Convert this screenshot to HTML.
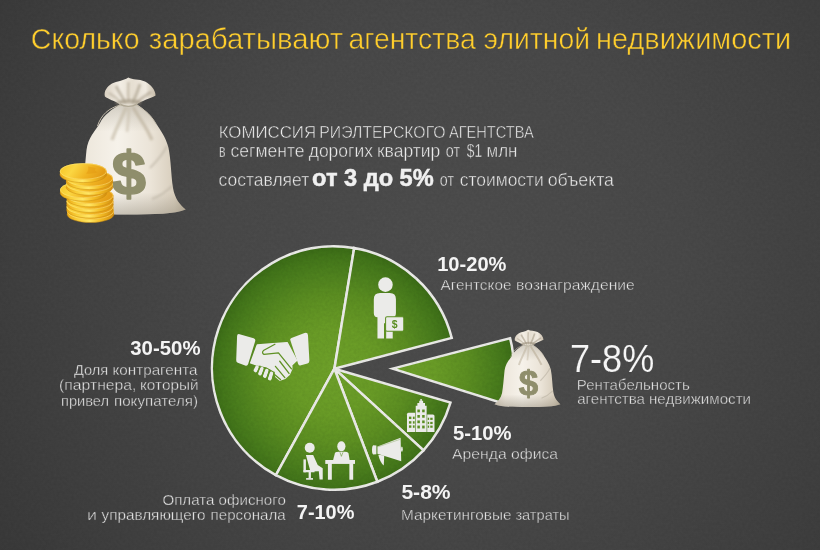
<!DOCTYPE html>
<html lang="ru"><head><meta charset="utf-8"><title>Сколько зарабатывают агентства элитной недвижимости</title>
<style>
html,body{margin:0;padding:0;background:#3f3f3f;}
body{width:820px;height:550px;overflow:hidden;}
svg{display:block;font-family:"Liberation Sans",sans-serif;}
</style></head><body>
<svg width="820" height="550" viewBox="0 0 820 550">
<defs>
<radialGradient id="bg" cx="450" cy="255" r="560" gradientUnits="userSpaceOnUse">
<stop offset="0" stop-color="#4e4e4e"/><stop offset="0.4" stop-color="#4a4a4a"/><stop offset="0.75" stop-color="#414141"/><stop offset="1" stop-color="#393939"/>
</radialGradient>
<radialGradient id="gr" cx="334.0" cy="371.0" r="125.0" gradientUnits="userSpaceOnUse"><stop offset="0" stop-color="#6fa22a"/><stop offset="0.35" stop-color="#6a9d27"/><stop offset="0.6" stop-color="#5d9022"/><stop offset="0.8" stop-color="#4d811e"/><stop offset="0.92" stop-color="#43761a"/><stop offset="1" stop-color="#3a6b16"/></radialGradient>
<radialGradient id="grw" cx="392.3" cy="371.0" r="125.0" gradientUnits="userSpaceOnUse"><stop offset="0" stop-color="#6fa22a"/><stop offset="0.35" stop-color="#6a9d27"/><stop offset="0.6" stop-color="#5d9022"/><stop offset="0.8" stop-color="#4d811e"/><stop offset="0.92" stop-color="#43761a"/><stop offset="1" stop-color="#3a6b16"/></radialGradient>
<filter id="noise" x="0" y="0" width="100%" height="100%"><feTurbulence type="fractalNoise" baseFrequency="0.35" numOctaves="2" seed="7"/><feColorMatrix type="matrix" values="0 0 0 0 0  0 0 0 0 0  0 0 0 0 0  1.6 0 0 0 -0.3"/></filter>
<linearGradient id="bagBody" x1="0" y1="0" x2="1" y2="0">
<stop offset="0" stop-color="#dbd2c3"/><stop offset="0.16" stop-color="#eee8dd"/><stop offset="0.42" stop-color="#f6f2ea"/><stop offset="0.7" stop-color="#ebe4d8"/><stop offset="0.9" stop-color="#d8cebd"/><stop offset="1" stop-color="#bfb4a0"/>
</linearGradient>
<linearGradient id="bagShade" x1="0" y1="0" x2="0" y2="1">
<stop offset="0" stop-color="#8f8776" stop-opacity="0.35"/><stop offset="0.25" stop-color="#8f8776" stop-opacity="0"/><stop offset="0.8" stop-color="#8f8776" stop-opacity="0"/><stop offset="1" stop-color="#8f8776" stop-opacity="0.45"/>
</linearGradient>
<linearGradient id="bagTop" x1="0" y1="0" x2="1" y2="0">
<stop offset="0" stop-color="#dad1c2"/><stop offset="0.3" stop-color="#f3eee5"/><stop offset="0.55" stop-color="#e6dfd2"/><stop offset="0.8" stop-color="#f0eae0"/><stop offset="1" stop-color="#c6bba8"/>
</linearGradient>
<linearGradient id="coinTop" x1="0" y1="0" x2="1" y2="0.25">
<stop offset="0" stop-color="#f6c524"/><stop offset="0.35" stop-color="#fbd642"/><stop offset="0.7" stop-color="#f0b321"/><stop offset="1" stop-color="#e49d17"/>
</linearGradient>
<linearGradient id="coinRim" x1="0" y1="0" x2="1" y2="0">
<stop offset="0" stop-color="#eaa715"/><stop offset="0.22" stop-color="#f9cf3a"/><stop offset="0.48" stop-color="#ffe765"/><stop offset="0.72" stop-color="#f4bd25"/><stop offset="1" stop-color="#d28d0e"/>
</linearGradient>
<filter id="soft" x="-20%" y="-20%" width="140%" height="140%"><feGaussianBlur stdDeviation="1.2"/></filter>
<filter id="soft3" x="-20%" y="-20%" width="140%" height="140%"><feGaussianBlur stdDeviation="0.7"/></filter>
<filter id="soft2" x="-20%" y="-20%" width="140%" height="140%"><feGaussianBlur stdDeviation="2.2"/></filter>
<g id="bag">
<path d="M121,104 C112,109 104,115 100,123 C95,131 88,138 86.5,150 C85,165 84,180 82,190 C80,199 74,205 68.7,209.5 C80,214 100,214.5 127,214.5 C155,214.5 175,214 185.7,209.5 C180,205 175,199 173,188 C171,175 171,160 168.5,148 C166,137 159,128 153,119 C148,112 142,108 136.5,104 Z" fill="url(#bagBody)"/>
<path d="M121,104 C112,109 104,115 100,123 C95,131 88,138 86.5,150 C85,165 84,180 82,190 C80,199 74,205 68.7,209.5 C80,214 100,214.5 127,214.5 C155,214.5 175,214 185.7,209.5 C180,205 175,199 173,188 C171,175 171,160 168.5,148 C166,137 159,128 153,119 C148,112 142,108 136.5,104 Z" fill="url(#bagShade)"/>
<g filter="url(#soft)"><path d="M126,107 C122,118 116,128 112,140" stroke="#c2b7a3" stroke-width="3.5" fill="none" opacity="0.6"/>
<path d="M133,107 C139,118 146,126 152,140" stroke="#b9ad98" stroke-width="3.5" fill="none" opacity="0.6"/>
<path d="M129,107 C129,116 128,124 127,132" stroke="#c6bba7" stroke-width="3" fill="none" opacity="0.5"/>
<path d="M167,146 C162,156 156,162 150,168" stroke="#b9b1a2" stroke-width="2" fill="none" opacity="0.6"/><path d="M172,186 C166,192 160,196 152,199" stroke="#b9b1a2" stroke-width="2" fill="none" opacity="0.6"/></g>
<path d="M120,104.4 C115,100.8 108,99 104.9,96.4 C103.6,91.5 107,86.5 112,83.6 C117,80.8 123,81 128.3,77.4 C132.5,80 139,78.6 145,81.4 C151,84.4 155.2,89.6 155.6,95.4 C150,98.8 141,100.6 136.5,104.4 C131,106.2 125,106.2 120,104.4 Z" fill="url(#bagTop)"/>
<g filter="url(#soft)" fill="none">
<path d="M116,86 C119,92 123,98 126,104" stroke="#a79c88" stroke-width="3" opacity="0.6"/>
<path d="M128.5,82 C128,90 128,98 129,104" stroke="#ada28e" stroke-width="2.6" opacity="0.5"/>
<path d="M140,84 C138,90 135,98 132,104" stroke="#a79c88" stroke-width="3" opacity="0.6"/>
<path d="M109,93 C114,96 119,100 123,104" stroke="#aca18d" stroke-width="2.4" opacity="0.5"/>
<path d="M151,92 C145,96 139,100 135,104" stroke="#a39884" stroke-width="2.8" opacity="0.55"/>
<path d="M116,103.500 C124,100 133,100 141,103" stroke="#9b907b" stroke-width="3.5" opacity="0.55"/>
</g>
<path d="M119.5,104 C125,107 132,107 137,103.8" stroke="#b1a996" stroke-width="1.5" fill="none"/>
<path d="M121,105 C109,107.500 101,115 97.500,126 M136,105 C146,110 153,118 156,124" stroke="#c4bcab" stroke-width="1" fill="none"/>
<text x="128.8" y="193.6" font-size="62" font-weight="700" text-anchor="middle" fill="#8f8e6c" stroke="#8f8e6c" stroke-width="1.6" stroke-linejoin="round" font-family="'Liberation Sans',sans-serif">$</text>
</g>
<g id="coin">
<path d="M-23.4,0 v3 a23.4,8.2 0 0 0 46.8,0 v-3 z" fill="url(#coinRim)"/>
<path d="M-23.4,3 a23.4,8.2 0 0 0 46.8,0" fill="none" stroke="#c98a10" stroke-width="0.7" opacity="0.7"/>
<ellipse cx="0" cy="0" rx="23.4" ry="8.2" fill="url(#coinTop)"/>
<ellipse cx="0" cy="0" rx="23" ry="7.8" fill="none" stroke="#fde57a" stroke-width="0.7" opacity="0.8"/>
</g>

</defs>
<rect width="820" height="550" fill="url(#bg)"/>
<g id="pie" fill="url(#gr)" stroke="#eeeeeb" stroke-width="2.5" stroke-linejoin="miter">
<path d="M334.40,368.70 L275.87,475.16 A121.75,121.75 0 0 1 354.16,248.02 Z"/>
<path d="M334.40,368.70 L354.16,248.02 A121.75,121.75 0 0 1 451.71,337.92 Z"/>
<path d="M334.40,368.70 L450.48,402.64 A121.75,121.75 0 0 1 423.49,450.33 Z"/>
<path d="M334.40,368.70 L423.49,450.33 A121.75,121.75 0 0 1 377.34,481.73 Z"/>
<path d="M334.40,368.70 L377.34,481.73 A121.75,121.75 0 0 1 275.87,475.16 Z"/>
</g>
<path id="wedge" d="M392.70,368.60 L510.12,338.23 A121.75,121.75 0 0 1 508.04,404.97 Z" fill="url(#grw)" stroke="#eeeeeb" stroke-width="2.5" stroke-linejoin="miter"/>
<rect width="820" height="550" filter="url(#noise)" opacity="0.06"/>
<!-- big money bag with coins -->
<use href="#bag"/>
<g id="coins">
<use href="#coin" transform="translate(90.5,211.3)"/>
<use href="#coin" transform="translate(90,206.8)"/>
<use href="#coin" transform="translate(90,201.2)"/>
<use href="#coin" transform="translate(90,195.6)"/>
<use href="#coin" transform="translate(83.5,189.8)"/>
<use href="#coin" transform="translate(89.5,184)"/>
<use href="#coin" transform="translate(89.5,178.4)"/>
<use href="#coin" transform="translate(83.3,171.4)"/>
<path d="M88,166.5 c3,1 6,0.5 8,2 c-2,1.5 -1,3 2,3.5 c-3,1.500 -8,2 -12,1.500 c2,-2 3,-4.500 2,-7 z" fill="#e39a14" opacity="0.55"/>
</g>
<!-- small bag -->
<use href="#bag" transform="translate(455.76,286.02) scale(0.564)"/>
<!-- icons -->
<g id="ic-hand" transform="translate(225,320) scale(0.12729)" fill="#ebebe9">
<path d="M95,125 Q95,106 115,111 L225,143 Q242,149 237,166 L182,345 Q176,364 158,357 L100,335 Q87,330 88,314 Z"/>
<path d="M514,162 Q506,148 522,142 L625,103 Q650,95 652,120 L663,318 Q664,336 648,341 L597,356 Q581,360 575,345 Z"/>
<path d="M254,197 L350,188 L488,178 L562,318 L524,352 L524,385 L505,428 L472,458 L432,472 L400,446 L392,404 L330,368 L240,350 L202,337 Z" stroke="#ebebe9" stroke-width="12" stroke-linejoin="round"/>
<g fill="none" stroke="#ebebe9" stroke-width="30" stroke-linecap="round">
<path d="M252,372 L240,396"/><path d="M290,384 L275,420"/><path d="M329,398 L313,440"/><path d="M366,420 L352,460"/>
</g>
<g fill="none" stroke="#5f9124" stroke-width="10" stroke-linecap="round" stroke-linejoin="round">
<path d="M392,190 L302,240 Q286,258 306,270 L420,258 L522,384"/>
<path d="M430,324 L503,420"/><path d="M396,364 L470,452"/><path d="M384,424 L436,468"/>
<path d="M274,362 L256,412"/><path d="M312,374 L294,432"/><path d="M350,392 L332,452"/><path d="M386,412 L372,470"/>
</g>
</g>
<g id="ic-agent" transform="translate(360,265) scale(0.14545)" fill="#ebebe9">
<circle cx="175" cy="135" r="50"/>
<path d="M95,235 Q95,192 138,192 L205,192 Q247,192 247,235 L247,330 Q247,358 225,360 L225,505 L180,505 L180,400 L165,400 L165,505 L120,505 L120,360 Q95,358 95,330 Z"/>
<rect x="176" y="355" width="125" height="100" rx="10" stroke="#5b8e22" stroke-width="7"/>
<text x="239" y="432" font-size="72" font-weight="700" text-anchor="middle" fill="#5b8e22" font-family="'Liberation Sans',sans-serif">$</text>
</g>
<g id="ic-office" transform="translate(395,385) scale(0.10909)" fill="#ebebe9">
<path d="M190,430 L190,190 L205,190 L205,165 L222,165 L222,145 L232,145 L232,128 L246,128 L246,145 L258,145 L258,165 L275,165 L275,190 L290,190 L290,430 Z"/>
<path d="M110,430 L110,268 Q112,255 125,255 L185,255 L185,430 Z"/>
<path d="M295,430 L295,270 L348,270 Q362,272 362,285 L362,430 Z"/>
<g fill="#5b8e22">
<rect x="205" y="225" width="23" height="25"/><rect x="249" y="225" width="23" height="25"/>
<rect x="205" y="275" width="23" height="25"/><rect x="249" y="275" width="23" height="25"/>
<rect x="205" y="325" width="23" height="25"/><rect x="249" y="325" width="23" height="25"/>
<rect x="205" y="372" width="23" height="26"/><rect x="249" y="372" width="23" height="26"/>
<rect x="128" y="290" width="22" height="22"/><rect x="164" y="290" width="16" height="22"/>
<rect x="128" y="332" width="22" height="22"/><rect x="164" y="332" width="16" height="22"/>
<rect x="128" y="370" width="22" height="22"/><rect x="164" y="370" width="16" height="22"/>
<rect x="300" y="300" width="13" height="20"/><rect x="323" y="300" width="22" height="20"/>
<rect x="300" y="338" width="13" height="20"/><rect x="323" y="338" width="22" height="20"/>
<rect x="300" y="372" width="13" height="20"/><rect x="323" y="372" width="22" height="20"/>
</g>
</g>
<g id="ic-mega" transform="translate(360,425) scale(0.10909)" fill="#ebebe9">
<path d="M120,185 L150,188 L150,268 L120,270 Q110,265 110,228 Q110,192 120,185 Z"/>
<path d="M160,198 L372,118 L378,332 L160,264 Z"/>
<ellipse cx="384" cy="222" rx="8" ry="24"/>
<path d="M168,272 L222,280 L218,372 Q182,340 168,272 Z"/>
<path d="M166,200 L366,132" stroke="#5b8e22" stroke-width="5" fill="none" opacity="0.55"/>
</g>
<g id="ic-staff" transform="translate(295,435) scale(0.090909)" fill="#ebebe9">
<circle cx="162" cy="140" r="55"/>
<path d="M120,220 L200,220 L250,330 L305,365 L305,490 L270,490 L262,398 L170,402 Z"/>
<rect x="93" y="268" width="27" height="142"/><rect x="93" y="385" width="122" height="25"/>
<rect x="150" y="405" width="25" height="72"/><rect x="122" y="474" width="76" height="18"/>
<ellipse cx="510" cy="125" rx="45" ry="55"/>
<path d="M440,195 Q450,185 480,185 L545,185 Q578,185 588,198 L602,280 L418,280 Z"/>
<path d="M495,190 L510,235 L528,190" stroke="#5b8e22" stroke-width="6" fill="none"/>
<rect x="333" y="275" width="327" height="43"/>
<rect x="362" y="310" width="43" height="182"/><rect x="598" y="310" width="42" height="182"/>
</g>

<g id="texts">
<text y="49.10" font-size="30" font-weight="400" fill="#ffce2c" stroke="#474747" stroke-width="0.5"><tspan x="30.80" textLength="108.70" lengthAdjust="spacingAndGlyphs">Сколько</tspan> <tspan x="148.80" textLength="194.30" lengthAdjust="spacingAndGlyphs">зарабатывают</tspan> <tspan x="348.40" textLength="127.40" lengthAdjust="spacingAndGlyphs">агентства</tspan> <tspan x="483.60" textLength="106.40" lengthAdjust="spacingAndGlyphs">элитной</tspan> <tspan x="596.00" textLength="195.10" lengthAdjust="spacingAndGlyphs">недвижимости</tspan></text>
<text y="138.00" font-size="16.5" font-weight="400" fill="#ededed" stroke="#474747" stroke-width="0.45"><tspan x="218.70" textLength="97.40" lengthAdjust="spacingAndGlyphs">КОМИССИЯ</tspan> <tspan x="319.30" textLength="126.30" lengthAdjust="spacingAndGlyphs">РИЭЛТЕРСКОГО</tspan> <tspan x="448.90" textLength="84.90" lengthAdjust="spacingAndGlyphs">АГЕНТСТВА</tspan></text>
<text y="157.30" font-size="17.5" font-weight="400" fill="#ebebeb" stroke="#474747" stroke-width="0.4"><tspan x="219.00" textLength="6.50" lengthAdjust="spacingAndGlyphs">в</tspan> <tspan x="230.60" textLength="74.00" lengthAdjust="spacingAndGlyphs">сегменте</tspan> <tspan x="308.70" textLength="64.20" lengthAdjust="spacingAndGlyphs">дорогих</tspan> <tspan x="376.90" textLength="63.40" lengthAdjust="spacingAndGlyphs">квартир</tspan> <tspan x="445.80" textLength="14.30" lengthAdjust="spacingAndGlyphs">от</tspan> <tspan x="466.80" textLength="15.30" lengthAdjust="spacingAndGlyphs">$1</tspan> <tspan x="486.60" textLength="30.80" lengthAdjust="spacingAndGlyphs">млн</tspan></text>
<text x="218.60" y="185.90" font-size="17.5" font-weight="400" fill="#ebebeb" stroke="#474747" stroke-width="0.4" textLength="90.60" lengthAdjust="spacingAndGlyphs">составляет</text>
<text x="312.10" y="185.70" font-size="23" font-weight="700" fill="#f0f0f0" stroke="#f0f0f0" stroke-width="0.5" textLength="121.60" lengthAdjust="spacingAndGlyphs">от 3 до 5%</text>
<text y="185.90" font-size="17.5" font-weight="400" fill="#ebebeb" stroke="#474747" stroke-width="0.4"><tspan x="439.80" textLength="14.20" lengthAdjust="spacingAndGlyphs">от</tspan> <tspan x="459.70" textLength="84.10" lengthAdjust="spacingAndGlyphs">стоимости</tspan> <tspan x="547.70" textLength="66.30" lengthAdjust="spacingAndGlyphs">объекта</tspan></text>
<text x="437.20" y="270.70" font-size="19.5" font-weight="700" fill="#f4f4f4" textLength="69.30" lengthAdjust="spacingAndGlyphs">10-20%</text>
<text y="289.60" font-size="14.5" font-weight="400" fill="#ebebeb" stroke="#474747" stroke-width="0.4"><tspan x="440.50" textLength="71.00" lengthAdjust="spacingAndGlyphs">Агентское</tspan> <tspan x="516.00" textLength="118.80" lengthAdjust="spacingAndGlyphs">вознаграждение</tspan></text>
<text x="130.30" y="354.90" font-size="19.5" font-weight="700" fill="#f4f4f4" textLength="70.20" lengthAdjust="spacingAndGlyphs">30-50%</text>
<text y="374.50" font-size="14.5" font-weight="400" fill="#ebebeb" stroke="#474747" stroke-width="0.4"><tspan x="74.00" textLength="34.20" lengthAdjust="spacingAndGlyphs">Доля</tspan> <tspan x="112.50" textLength="85.00" lengthAdjust="spacingAndGlyphs">контрагента</tspan></text>
<text y="390.40" font-size="14.5" font-weight="400" fill="#ebebeb" stroke="#474747" stroke-width="0.4"><tspan x="59.00" textLength="77.50" lengthAdjust="spacingAndGlyphs">(партнера,</tspan> <tspan x="140.00" textLength="58.50" lengthAdjust="spacingAndGlyphs">который</tspan></text>
<text y="405.90" font-size="14.5" font-weight="400" fill="#ebebeb" stroke="#474747" stroke-width="0.4"><tspan x="61.00" textLength="48.00" lengthAdjust="spacingAndGlyphs">привел</tspan> <tspan x="114.00" textLength="84.00" lengthAdjust="spacingAndGlyphs">покупателя)</tspan></text>
<text x="162.40" y="505.10" font-size="14.5" font-weight="400" fill="#ebebeb" stroke="#474747" stroke-width="0.4" textLength="123.40" lengthAdjust="spacingAndGlyphs">Оплата офисного</text>
<text y="519.70" font-size="14.5" font-weight="400" fill="#ebebeb" stroke="#474747" stroke-width="0.4"><tspan x="87.00" textLength="10.00" lengthAdjust="spacingAndGlyphs">и</tspan> <tspan x="101.50" textLength="104.00" lengthAdjust="spacingAndGlyphs">управляющего</tspan> <tspan x="210.60" textLength="75.00" lengthAdjust="spacingAndGlyphs">персонала</tspan></text>
<text x="296.80" y="518.80" font-size="19.5" font-weight="700" fill="#f4f4f4" textLength="57.60" lengthAdjust="spacingAndGlyphs">7-10%</text>
<text x="452.90" y="440.20" font-size="19.5" font-weight="700" fill="#f4f4f4" textLength="58.60" lengthAdjust="spacingAndGlyphs">5-10%</text>
<text x="452.10" y="459.30" font-size="14.5" font-weight="400" fill="#ebebeb" stroke="#474747" stroke-width="0.4" textLength="106.00" lengthAdjust="spacingAndGlyphs">Аренда офиса</text>
<text x="401.40" y="498.80" font-size="19.5" font-weight="700" fill="#f4f4f4" textLength="49.20" lengthAdjust="spacingAndGlyphs">5-8%</text>
<text y="519.60" font-size="14.5" font-weight="400" fill="#ebebeb" stroke="#474747" stroke-width="0.4"><tspan x="401.00" textLength="110.50" lengthAdjust="spacingAndGlyphs">Маркетинговые</tspan> <tspan x="515.40" textLength="54.20" lengthAdjust="spacingAndGlyphs">затраты</tspan></text>
<text x="570.00" y="371.50" font-size="39" font-weight="400" fill="#f6f6f6" stroke="#474747" stroke-width="0.15" textLength="84.20" lengthAdjust="spacingAndGlyphs">7-8%</text>
<text x="576.80" y="389.60" font-size="14.5" font-weight="400" fill="#ebebeb" stroke="#474747" stroke-width="0.4" textLength="113.00" lengthAdjust="spacingAndGlyphs">Рентабельность</text>
<text y="404.00" font-size="14.5" font-weight="400" fill="#ebebeb" stroke="#474747" stroke-width="0.4"><tspan x="577.20" textLength="67.80" lengthAdjust="spacingAndGlyphs">агентства</tspan> <tspan x="649.00" textLength="102.00" lengthAdjust="spacingAndGlyphs">недвижимости</tspan></text>
</g>
</svg>
</body></html>
